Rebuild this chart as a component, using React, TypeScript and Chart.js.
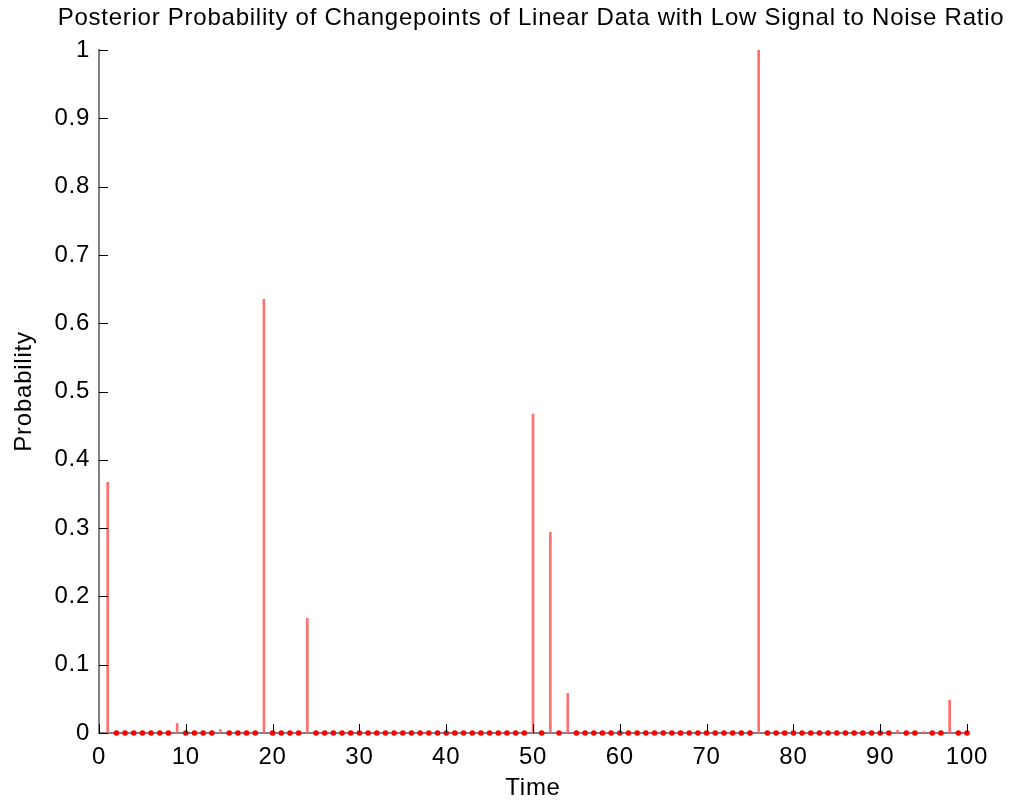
import React, { useEffect, useRef } from "react";
import { Chart, registerables } from "chart.js";

Chart.register(...registerables);

// Posterior probability of a changepoint at each time step (t = 1..100)
const probabilities: number[] = [
  0.367, 0, 0, 0, 0, 0, 0, 0, 0.014, 0,
  0, 0, 0, 0.005, 0, 0, 0, 0, 0.635, 0,
  0, 0, 0, 0.168, 0, 0, 0, 0, 0, 0,
  0, 0, 0, 0, 0, 0, 0, 0, 0, 0,
  0, 0, 0, 0, 0, 0, 0, 0, 0, 0.467,
  0, 0.294, 0, 0.058, 0, 0, 0, 0, 0, 0,
  0, 0, 0, 0, 0, 0, 0, 0, 0, 0,
  0, 0, 0, 0, 0, 1.0, 0, 0, 0, 0,
  0, 0, 0, 0, 0, 0, 0, 0, 0, 0,
  0, 0.004, 0, 0, 0.002, 0, 0, 0.048, 0, 0,
];
const times: number[] = probabilities.map((_, i) => i + 1);

const xTickLabels: string[] = ["0", "10", "20", "30", "40", "50", "60", "70", "80", "90", "100"];
const yTickLabels: string[] = ["0", "0.1", "0.2", "0.3", "0.4", "0.5", "0.6", "0.7", "0.8", "0.9", "1"];

const titleText = "Posterior Probability of Changepoints of Linear Data with Low Signal to Noise Ratio";
const xTitle = "Time";
const yTitle = "Probability";

const FONT = "'Liberation Sans', Arial, Helvetica, sans-serif";

const letterSpacingPlugin = {
  id: "letterSpacing",
  beforeLayout(chart: any) {
    (chart.ctx as any).letterSpacing = "0.75px";
  },
  beforeDraw(chart: any) {
    (chart.ctx as any).letterSpacing = "0.75px";
  },
};

const inwardTicks = {
  id: "inwardTicks",
  afterDatasetsDraw(chart: any) {
    const { ctx, chartArea, scales } = chart;
    const xs = scales.x;
    const ys = scales.y;
    ctx.save();
    ctx.strokeStyle = "#000";
    ctx.lineWidth = 1;
    ctx.beginPath();
    xs.ticks.forEach((t: any) => {
      const px = Math.round(xs.getPixelForValue(t.value)) + 0.5;
      ctx.moveTo(px, chartArea.bottom);
      ctx.lineTo(px, chartArea.bottom - 9);
    });
    ys.ticks.forEach((t: any) => {
      const py = Math.round(ys.getPixelForValue(t.value)) + 0.5;
      ctx.moveTo(chartArea.left, py);
      ctx.lineTo(chartArea.left + 9, py);
    });
    ctx.stroke();
    ctx.restore();
  },
};

export default function App() {
  const canvasRef = useRef<HTMLCanvasElement | null>(null);

  useEffect(() => {
    const canvas = canvasRef.current;
    if (!canvas) return;

    const barData = times.map((t, i) => ({ x: t, y: probabilities[i] }));
    const zeroData = times
      .map((t, i) => ({ x: t, y: probabilities[i] }))
      .filter((p) => p.y === 0);

    const chart = new Chart(canvas, {
      type: "bar",
      data: {
        datasets: [
          {
            type: "bar",
            data: barData,
            backgroundColor: "#ff7070",
            borderWidth: 0,
            barThickness: 2,
            xAxisID: "x",
            yAxisID: "y",
            order: 2,
          } as any,
          {
            type: "scatter",
            data: zeroData,
            backgroundColor: "#ff0000",
            borderColor: "#ff0000",
            borderWidth: 0,
            pointRadius: 2.8,
            pointStyle: "circle",
            clip: false,
            xAxisID: "x",
            yAxisID: "y",
            order: 1,
          } as any,
        ],
      },
      options: {
        responsive: false,
        animation: false,
        events: [],
        layout: { padding: { left: 48, right: 0, top: 0, bottom: 0 } },
        plugins: {
          legend: { display: false },
          tooltip: { enabled: false },
          title: {
            display: true,
            text: titleText,
            color: "#000",
            font: { family: FONT, size: 24, weight: "normal", lineHeight: 1.2 },
            padding: { top: 4, bottom: 17.2 },
          },
        },
        scales: {
          x: {
            type: "linear",
            min: 0,
            max: 100,
            offset: false,
            grid: { display: true, drawOnChartArea: false, drawTicks: false },
            border: { display: true, color: "#808080", width: 2 },
            ticks: {
              stepSize: 10,
              autoSkip: false,
              maxRotation: 0,
              padding: 10,
              color: "#000",
              font: { family: FONT, size: 24 },
              callback: (_v: any, i: number) => xTickLabels[i],
            },
            title: {
              display: true,
              text: xTitle,
              color: "#000",
              font: { family: FONT, size: 24, lineHeight: 1.2 },
              padding: { top: 0, bottom: 0 },
            },
            afterFit: (s: any) => {
              s.height = 70;
            },
          },
          y: {
            type: "linear",
            position: "left",
            min: 0,
            max: 1,
            grid: { display: true, drawOnChartArea: false, drawTicks: false },
            border: { display: true, color: "#808080", width: 2 },
            ticks: {
              stepSize: 0.1,
              autoSkip: false,
              padding: 9,
              color: "#000",
              font: { family: FONT, size: 24 },
              callback: (_v: any, i: number) => yTickLabels[i],
            },
            title: {
              display: true,
              text: yTitle,
              color: "#000",
              font: { family: FONT, size: 24, lineHeight: 1.2 },
              padding: { top: -38, bottom: 0 },
            },
            afterFit: (s: any) => {
              s.width = 51;
            },
          },
          yRight: {
            type: "linear",
            position: "right",
            display: true,
            grid: { display: false, drawTicks: false },
            border: { display: false },
            ticks: { display: false },
            afterFit: (s: any) => {
              s.width = 47;
            },
          },
        },
      } as any,
      plugins: [letterSpacingPlugin, inwardTicks],
    });

    return () => {
      chart.destroy();
    };
  }, []);

  return (
    <div style={{ position: "fixed", left: 0, top: 0, width: 1014, height: 803, background: "#fff" }}>
      <canvas ref={canvasRef} width={1014} height={803} style={{ display: "block" }} />
    </div>
  );
}
